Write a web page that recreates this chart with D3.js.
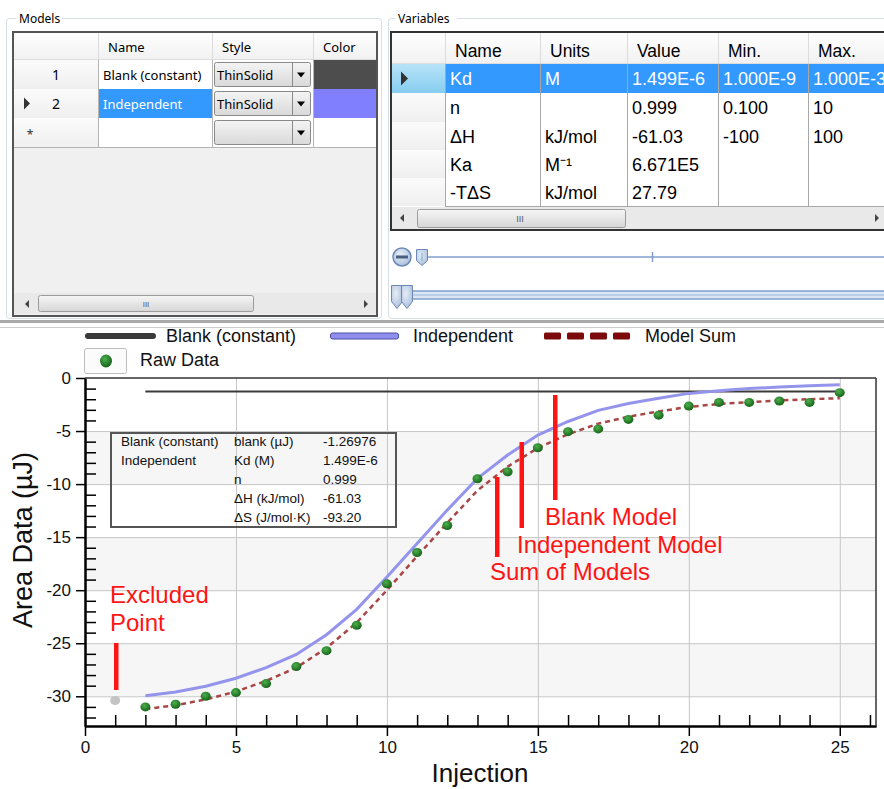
<!DOCTYPE html>
<html><head><meta charset="utf-8">
<script src="https://cdn.jsdelivr.net/npm/d3@7"></script>
<style>body{margin:0;background:#fff;} svg{display:block;}</style>
</head><body>
<svg id="c" width="884" height="789"></svg>
<script>
// ---------------- DATA ----------------
const injections = [2,3,4,5,6,7,8,9,10,11,12,13,14,15,16,17,18,19,20,21,22,23,24,25];
const rawData = [-31.0,-30.75,-30.0,-29.65,-28.8,-27.2,-25.7,-23.3,-19.4,-16.45,-13.9,-9.5,-8.84,-6.57,-5.06,-4.8,-3.9,-3.5,-2.65,-2.3,-2.3,-2.17,-2.3,-1.38];
const excludedInjection = [1];
const excludedData = [-30.4];
const blankValue = [-1.27];
const blankRange = [2, 25];
const independentFit = [-29.95,-29.6,-29.05,-28.3,-27.3,-26.05,-24.2,-21.8,-18.75,-15.6,-12.45,-9.46,-7.26,-5.38,-4.1,-3.05,-2.4,-1.9,-1.45,-1.2,-1.0,-0.85,-0.72,-0.63];
const modelSumFit = [-31.2,-30.85,-30.3,-29.55,-28.55,-27.3,-25.45,-23.05,-20.0,-16.8,-13.65,-10.6,-8.35,-6.6,-5.3,-4.3,-3.65,-3.15,-2.72,-2.45,-2.27,-2.12,-2.0,-1.9];
const xMajorTicks = [0,5,10,15,20,25];
const xMinorTicks = [1,2,3,4,6,7,8,9,11,12,13,14,16,17,18,19,21,22,23,24,26];
const yMajorTicks = [0,-5,-10,-15,-20,-25,-30];
const yMinorTicks = [-1,-2,-3,-4,-6,-7,-8,-9,-11,-12,-13,-14,-16,-17,-18,-19,-21,-22,-23,-24,-26,-27,-28,-29,-31,-32];
const legendLabels = ["Blank (constant)","Independent","Model Sum","Raw Data"];
const infoRows = [
  ["Blank (constant)","blank (µJ)","-1.26976"],
  ["Independent","Kd (M)","1.499E-6"],
  ["","n","0.999"],
  ["","ΔH (kJ/mol)","-61.03"],
  ["","ΔS (J/mol·K)","-93.20"]
];
const annotations = ["Excluded","Point","Blank Model","Independent Model","Sum of Models"];
const modelHeaders = ["Name","Style","Color"];
const modelRows = [
  ["1","Blank (constant)","ThinSolid","#4d4d4d"],
  ["2","Independent","ThinSolid","#8080ff"],
  ["*","","",""]
];
const varHeaders = ["Name","Units","Value","Min.","Max."];
const varRows = [
  ["Kd","M","1.499E-6","1.000E-9","1.000E-3"],
  ["n","","0.999","0.100","10"],
  ["ΔH","kJ/mol","-61.03","-100","100"],
  ["Ka","M⁻¹","6.671E5","",""],
  ["-TΔS","kJ/mol","27.79","",""]
];

// ---------------- SETUP ----------------
const svg = d3.select("#c");
const defs = svg.append("defs");
function lg(id, c1, c2){
  const g = defs.append("linearGradient").attr("id",id).attr("x1",0).attr("y1",0).attr("x2",0).attr("y2",1);
  g.append("stop").attr("offset","0%").attr("stop-color",c1);
  g.append("stop").attr("offset","100%").attr("stop-color",c2);
}
lg("hdr","#ffffff","#f1f1f1");
lg("rowhdr","#fbfbfb","#efefef");
lg("combo","#f4f4f4","#d9d9d9");
lg("thumb","#f6f6f6","#d6d6d6");
lg("selhdr","#b7e3f8","#86cdef");
const rg = defs.append("radialGradient").attr("id","dot").attr("cx","40%").attr("cy","35%").attr("r","65%");
rg.append("stop").attr("offset","0%").attr("stop-color","#4caf4c");
rg.append("stop").attr("offset","100%").attr("stop-color","#17651a");
const rg2 = defs.append("radialGradient").attr("id","knob").attr("cx","40%").attr("cy","35%").attr("r","70%");
rg2.append("stop").attr("offset","0%").attr("stop-color","#e6eef8");
rg2.append("stop").attr("offset","100%").attr("stop-color","#a9bedb");
defs.append("clipPath").attr("id","varclip").append("rect").attr("x",391).attr("y",32).attr("width",493).attr("height",198);
defs.append("clipPath").attr("id","modclip").append("rect").attr("x",13).attr("y",32).attr("width",364).attr("height",284);

const uiFont = "'Noto Sans', 'Open Sans', sans-serif";
const arial = "'Liberation Sans', Arial, sans-serif";

// ---------------- MODELS PANEL ----------------
const gm = svg.append("g");
gm.append("rect").attr("x",6.5).attr("y",18.5).attr("width",375).attr("height",300).attr("rx",3)
  .attr("fill","none").attr("stroke","#d5dfe5");
gm.append("rect").attr("x",16).attr("y",10).attr("width",46).attr("height",14).attr("fill","#fff");
gm.append("text").attr("x",19).attr("y",23).text("Models").attr("font-family",uiFont).attr("font-size",12);

const mg = gm.append("g").attr("clip-path","url(#modclip)");
mg.append("rect").attr("x",13).attr("y",32).attr("width",364).attr("height",284).attr("fill","#f0f0f0");
const mCols = [13,98,212,313,377];
const mRowsY = [60,89,118,147];
mg.append("rect").attr("x",13).attr("y",32).attr("width",364).attr("height",28).attr("fill","url(#hdr)");
modelHeaders.forEach((h,i)=>{
  mg.append("text").attr("x",mCols[i+1]+10).attr("y",52).text(h).attr("font-family",uiFont).attr("font-size",13);
});
mCols.slice(1,4).forEach(c=>mg.append("line").attr("x1",c+0.5).attr("x2",c+0.5).attr("y1",33).attr("y2",60).attr("stroke","#dcdcdc"));
mg.append("line").attr("x1",13).attr("x2",377).attr("y1",60).attr("y2",60).attr("stroke","#c8c8c8");
modelRows.forEach((r,i)=>{
  const y0 = mRowsY[i], h = mRowsY[i+1]-y0;
  mg.append("rect").attr("x",13).attr("y",y0).attr("width",85).attr("height",h).attr("fill","url(#rowhdr)");
  if (r[0]==="*") {
    mg.append("text").attr("x",30).attr("y",y0+h/2+6).attr("text-anchor","middle").text("*").attr("font-family",uiFont).attr("font-size",12).attr("fill","#333");
  } else {
    mg.append("text").attr("x",56).attr("y",y0+h/2+5).attr("text-anchor","middle").text(r[0]).attr("font-family",uiFont).attr("font-size",14);
  }
  if (i===1) mg.append("path").attr("d",`M24,${y0+h/2-6}L30,${y0+h/2}L24,${y0+h/2+6}Z`).attr("fill","#333");
  mg.append("rect").attr("x",98).attr("y",y0).attr("width",114).attr("height",h).attr("fill", i===1?"#3399ff":"#fff");
  mg.append("text").attr("x",103).attr("y",y0+h/2+5).text(r[1]).attr("font-family",uiFont).attr("font-size",13)
    .attr("fill", i===1?"#fff":"#000");
  mg.append("rect").attr("x",212).attr("y",y0).attr("width",101).attr("height",h).attr("fill","#fff");
  mg.append("rect").attr("x",214.5).attr("y",y0+2.5).attr("width",96).attr("height",h-5).attr("rx",2)
    .attr("fill","url(#combo)").attr("stroke","#8a8a8a");
  mg.append("line").attr("x1",292.5).attr("x2",292.5).attr("y1",y0+3).attr("y2",y0+h-3).attr("stroke","#8a8a8a");
  mg.append("path").attr("d",`M297,${y0+h/2-2}L305,${y0+h/2-2}L301,${y0+h/2+3}Z`).attr("fill","#000");
  if (r[2]) mg.append("text").attr("x",217).attr("y",y0+h/2+5).text(r[2]).attr("font-family",uiFont).attr("font-size",13);
  mg.append("rect").attr("x",313).attr("y",y0).attr("width",64).attr("height",h).attr("fill", r[3]||"#fff");
  mg.append("line").attr("x1",13).attr("x2",377).attr("y1",y0+h+0.5).attr("y2",y0+h+0.5).attr("stroke","#b4b4b4");
});
[98,212,313].forEach(c=>mg.append("line").attr("x1",c+0.5).attr("x2",c+0.5).attr("y1",60).attr("y2",147).attr("stroke","#b4b4b4"));
mg.append("rect").attr("x",14).attr("y",293).attr("width",362).attr("height",21).attr("fill","#e9e9e9");
mg.append("rect").attr("x",38.5).attr("y",295.5).attr("width",215).attr("height",16).attr("rx",2).attr("fill","url(#thumb)").attr("stroke","#9c9c9c");
mg.append("text").attr("x",146).attr("y",307).attr("text-anchor","middle").text("III").attr("font-family",arial).attr("font-size",8).attr("fill","#555");
mg.append("path").attr("d","M29,300L25,304L29,308Z").attr("fill","#444");
mg.append("path").attr("d","M364,300L368,304L364,308Z").attr("fill","#444");
gm.append("rect").attr("x",13).attr("y",32).attr("width",364).attr("height",284).attr("fill","none").attr("stroke","#555").attr("stroke-width",2);

// ---------------- VARIABLES PANEL ----------------
const gv = svg.append("g");
gv.append("rect").attr("x",388.5).attr("y",18.5).attr("width",520).attr("height",300).attr("rx",3)
  .attr("fill","none").attr("stroke","#d5dfe5");
gv.append("rect").attr("x",395).attr("y",10).attr("width",62).attr("height",14).attr("fill","#fff");
gv.append("text").attr("x",398).attr("y",23).text("Variables").attr("font-family",uiFont).attr("font-size",12);

const vg = gv.append("g").attr("clip-path","url(#varclip)");
vg.append("rect").attr("x",391).attr("y",32).attr("width",500).attr("height",198).attr("fill","#fff");
const vCols = [391,445,540,627,718,808,900];
const vRowsY = [64,93,122,150,178,206];
vg.append("rect").attr("x",391).attr("y",32).attr("width",500).attr("height",32).attr("fill","url(#hdr)");
varHeaders.forEach((h,i)=>{
  vg.append("text").attr("x",vCols[i+1]+10).attr("y",57).text(h).attr("font-family",arial).attr("font-size",17.5);
});
vCols.slice(1,6).forEach(c=>vg.append("line").attr("x1",c+0.5).attr("x2",c+0.5).attr("y1",33).attr("y2",64).attr("stroke","#dcdcdc"));
vg.append("line").attr("x1",391).attr("x2",900).attr("y1",64).attr("y2",64).attr("stroke","#c8c8c8");
varRows.forEach((r,i)=>{
  const y0 = vRowsY[i], h = vRowsY[i+1]-y0;
  vg.append("rect").attr("x",391).attr("y",y0).attr("width",54).attr("height",h).attr("fill", i===0?"url(#selhdr)":"url(#rowhdr)");
  if (i===0) vg.append("path").attr("d",`M401,${y0+h/2-7}L408,${y0+h/2}L401,${y0+h/2+7}Z`).attr("fill","#333");
  vg.append("rect").attr("x",445).attr("y",y0).attr("width",460).attr("height",h).attr("fill", i===0?"#3399ff":"#fff");
  r.forEach((v,j)=>{
    vg.append("text").attr("x",vCols[j+1]+5).attr("y",y0+h/2+6.5).text(v).attr("font-family",arial).attr("font-size",18)
      .attr("fill", i===0?"#fff":"#000");
  });
  vg.append("line").attr("x1",445).attr("x2",900).attr("y1",y0+h+0.5).attr("y2",y0+h+0.5).attr("stroke","#a8a8a8");
});
vCols.slice(1,6).forEach(c=>vg.append("line").attr("x1",c+0.5).attr("x2",c+0.5).attr("y1",64).attr("y2",206).attr("stroke","#a8a8a8"));
vg.append("rect").attr("x",392).attr("y",207).attr("width",500).attr("height",22).attr("fill","#e9e9e9");
vg.append("rect").attr("x",417.5).attr("y",209.5).attr("width",208).attr("height",18).attr("rx",2).attr("fill","url(#thumb)").attr("stroke","#9c9c9c");
vg.append("text").attr("x",520).attr("y",222).attr("text-anchor","middle").text("III").attr("font-family",arial).attr("font-size",9).attr("fill","#555");
vg.append("path").attr("d","M404,214L400,218L404,222Z").attr("fill","#444");
vg.append("path").attr("d","M875,214L879,218L875,222Z").attr("fill","#444");
gv.append("rect").attr("x",391).attr("y",32).attr("width",510).attr("height",198).attr("fill","none").attr("stroke","#333").attr("stroke-width",2);

// sliders
gv.append("line").attr("x1",428).attr("x2",884).attr("y1",257).attr("y2",257).attr("stroke","#7f9fcf").attr("stroke-width",1.5);
gv.append("line").attr("x1",652.5).attr("x2",652.5).attr("y1",252).attr("y2",262).attr("stroke","#7f9fcf").attr("stroke-width",1.5);
gv.append("circle").attr("cx",402).attr("cy",257).attr("r",9).attr("fill","url(#knob)").attr("stroke","#6d88b4").attr("stroke-width",1.5);
gv.append("rect").attr("x",396).attr("y",255.5).attr("width",12).attr("height",3).attr("fill","#4a5f80");
gv.append("path").attr("d","M416.5,249.5h11v11l-5.5,5l-5.5,-5z").attr("fill","url(#knob)").attr("stroke","#6d88b4");
gv.append("line").attr("x1",422).attr("x2",422).attr("y1",253).attr("y2",261).attr("stroke","#7f9fcf");
gv.append("rect").attr("x",410).attr("y",291).attr("width",480).attr("height",8).attr("fill","#dbe6f4").attr("stroke","#7f9fcf").attr("stroke-width",1.5);
gv.append("line").attr("x1",410).attr("x2",884).attr("y1",295).attr("y2",295).attr("stroke","#9db5da");
gv.append("path").attr("d","M391.5,285.5h11v16l-5.5,7l-5.5,-7z").attr("fill","url(#knob)").attr("stroke","#6d88b4");
gv.append("path").attr("d","M401.5,285.5h11v16l-5.5,7l-5.5,-7z").attr("fill","url(#knob)").attr("stroke","#6d88b4");

// separator
svg.append("rect").attr("x",0).attr("y",320).attr("width",884).attr("height",3).attr("fill","#a9a9a9");
svg.append("line").attr("x1",0).attr("x2",884).attr("y1",327.5).attr("y2",327.5).attr("stroke","#cfcfcf");

// ---------------- CHART ----------------
const x = d3.scaleLinear().domain([0,26.2]).range([85,876]);
const y = d3.scaleLinear().domain([-32.8,0]).range([726,378]);
const gc = svg.append("g");

const bandEdges = yMajorTicks.concat([y.domain()[0]]);
for (let i=0;i<bandEdges.length-1;i++){
  if (i%2===1) gc.append("rect").attr("x",x(0)).attr("width",x(26.2)-x(0))
    .attr("y",y(bandEdges[i])).attr("height",y(bandEdges[i+1])-y(bandEdges[i])).attr("fill","#f6f6f6");
}
gc.selectAll(".vg").data(xMajorTicks.filter(d=>d>0)).join("line")
  .attr("x1",d=>x(d)+0.5).attr("x2",d=>x(d)+0.5).attr("y1",y(0)).attr("y2",y(-32.8)).attr("stroke","#c6c6c6");
gc.selectAll(".hg").data(yMajorTicks.filter(d=>d<0)).join("line")
  .attr("y1",d=>y(d)+0.5).attr("y2",d=>y(d)+0.5).attr("x1",x(0)).attr("x2",x(26.2)).attr("stroke","#c6c6c6");

const ib = gc.append("g");
ib.append("rect").attr("x",111).attr("y",433).attr("width",285).attr("height",94).attr("fill","none").attr("stroke","#555").attr("stroke-width",2);
const infoX = [121,234,323], infoY = [446,465,484,503,522];
infoRows.forEach((r,i)=>r.forEach((t,j)=>{
  if (t) ib.append("text").attr("x",infoX[j]).attr("y",infoY[i]).text(t).attr("font-family",arial).attr("font-size",13.5).attr("fill","#111");
}));

gc.append("line").attr("x1",x(blankRange[0])).attr("x2",x(blankRange[1]))
  .attr("y1",y(blankValue[0])).attr("y2",y(blankValue[0])).attr("stroke","#3a3a3a").attr("stroke-width",2);
const line = d3.line().x(d=>x(d[0])).y(d=>y(d[1]));
gc.append("path").attr("d",line(injections.map((v,i)=>[v,independentFit[i]])))
  .attr("fill","none").attr("stroke","#9494ec").attr("stroke-width",3);
gc.append("path").attr("d",line(injections.map((v,i)=>[v,modelSumFit[i]])))
  .attr("fill","none").attr("stroke","#a84646").attr("stroke-width",2.5).attr("stroke-dasharray","5,4");
gc.selectAll(".pt").data(injections.map((v,i)=>[v,rawData[i]])).join("ellipse")
  .attr("cx",d=>x(d[0])).attr("cy",d=>y(d[1])).attr("rx",5).attr("ry",4.5).attr("fill","url(#dot)");
gc.selectAll(".ex").data(excludedInjection.map((v,i)=>[v,excludedData[i]])).join("ellipse")
  .attr("cx",d=>x(d[0])).attr("cy",d=>y(d[1])).attr("rx",5).attr("ry",4.5).attr("fill","#c4c4c4");

const axG = gc.append("g").attr("font-family",arial);
const xMinor = axG.append("g").attr("transform",`translate(0,${y(-32.8)})`)
  .call(d3.axisBottom(x).tickValues(xMinorTicks).tickSize(-11).tickSizeOuter(0).tickFormat(""));
const xMajor = axG.append("g").attr("transform",`translate(0,${y(-32.8)})`)
  .call(d3.axisBottom(x).tickValues(xMajorTicks).tickSize(10).tickSizeOuter(0).tickPadding(5).tickFormat(d=>String(d)));
const yMinor = axG.append("g").attr("transform",`translate(${x(0)},0)`)
  .call(d3.axisLeft(y).tickValues(yMinorTicks).tickSize(-11).tickSizeOuter(0).tickFormat(""));
const yMajor = axG.append("g").attr("transform",`translate(${x(0)},0)`)
  .call(d3.axisLeft(y).tickValues(yMajorTicks).tickSize(9).tickSizeOuter(0).tickPadding(5).tickFormat(d=>String(d)));
[xMinor,xMajor,yMinor,yMajor].forEach(g=>{
  g.selectAll(".domain").attr("stroke","#000").attr("stroke-width",2);
  g.selectAll(".tick line").attr("stroke","#000").attr("stroke-width",1.5);
  g.selectAll(".tick text").attr("font-size",17).attr("fill","#111").attr("font-family",arial);
});
gc.append("line").attr("x1",x(0)).attr("x2",x(26.2)).attr("y1",y(0)).attr("y2",y(0)).attr("stroke","#333").attr("stroke-width",1.5);
gc.append("line").attr("x1",x(26.2)).attr("x2",x(26.2)).attr("y1",y(0)).attr("y2",y(-32.8)).attr("stroke","#333").attr("stroke-width",1.5);

gc.append("text").attr("transform","translate(32,540) rotate(-90)").attr("text-anchor","middle")
  .text("Area Data (µJ)").attr("font-family",arial).attr("font-size",27).attr("fill","#111");
gc.append("text").attr("x",480).attr("y",782).attr("text-anchor","middle")
  .text("Injection").attr("font-family",arial).attr("font-size",26).attr("fill","#111");

const lgG = svg.append("g").attr("font-family",arial).attr("font-size",18).attr("fill","#111");
lgG.append("line").attr("x1",88).attr("x2",153).attr("y1",336).attr("y2",336).attr("stroke","#3a3a3a").attr("stroke-width",6).attr("stroke-linecap","round");
lgG.append("text").attr("x",166).attr("y",342).text(legendLabels[0]);
lgG.append("rect").attr("x",330.5).attr("y",333).attr("width",68).attr("height",6).attr("rx",2).attr("fill","#9090ec").attr("stroke","#4a4aa8");
lgG.append("text").attr("x",413).attr("y",342).text(legendLabels[1]);
[0,1,2,3].forEach(k=>lgG.append("rect").attr("x",544+k*23).attr("y",332.5).attr("width",17).attr("height",7).attr("rx",1.5).attr("fill","#7c0a0a"));
lgG.append("text").attr("x",645).attr("y",342).text(legendLabels[2]);
lgG.append("rect").attr("x",84.5).attr("y",348.5).attr("width",42).attr("height",25).attr("rx",2).attr("fill","#fbfbfb").attr("stroke","#bdbdbd");
lgG.append("ellipse").attr("cx",106).attr("cy",361).attr("rx",6).attr("ry",6.5).attr("fill","url(#dot)");
lgG.append("text").attr("x",140).attr("y",366).text(legendLabels[3]);

const red = "#ff1414";
const an = svg.append("g").attr("font-family",arial).attr("font-size",24).attr("fill",red);
an.append("text").attr("x",110).attr("y",603).text(annotations[0]);
an.append("text").attr("x",110).attr("y",631).text(annotations[1]);
an.append("rect").attr("x",114).attr("y",643).attr("width",4.5).attr("height",47).attr("fill",red);
an.append("text").attr("x",545).attr("y",525).text(annotations[2]);
an.append("rect").attr("x",553).attr("y",395).attr("width",4.5).attr("height",105).attr("fill",red);
an.append("text").attr("x",517).attr("y",553).text(annotations[3]);
an.append("rect").attr("x",519.5).attr("y",442).attr("width",4.5).attr("height",86).attr("fill",red);
an.append("text").attr("x",490).attr("y",580).text(annotations[4]);
an.append("rect").attr("x",495).attr("y",477).attr("width",4.5).attr("height",80).attr("fill",red);
</script>
</body></html>
